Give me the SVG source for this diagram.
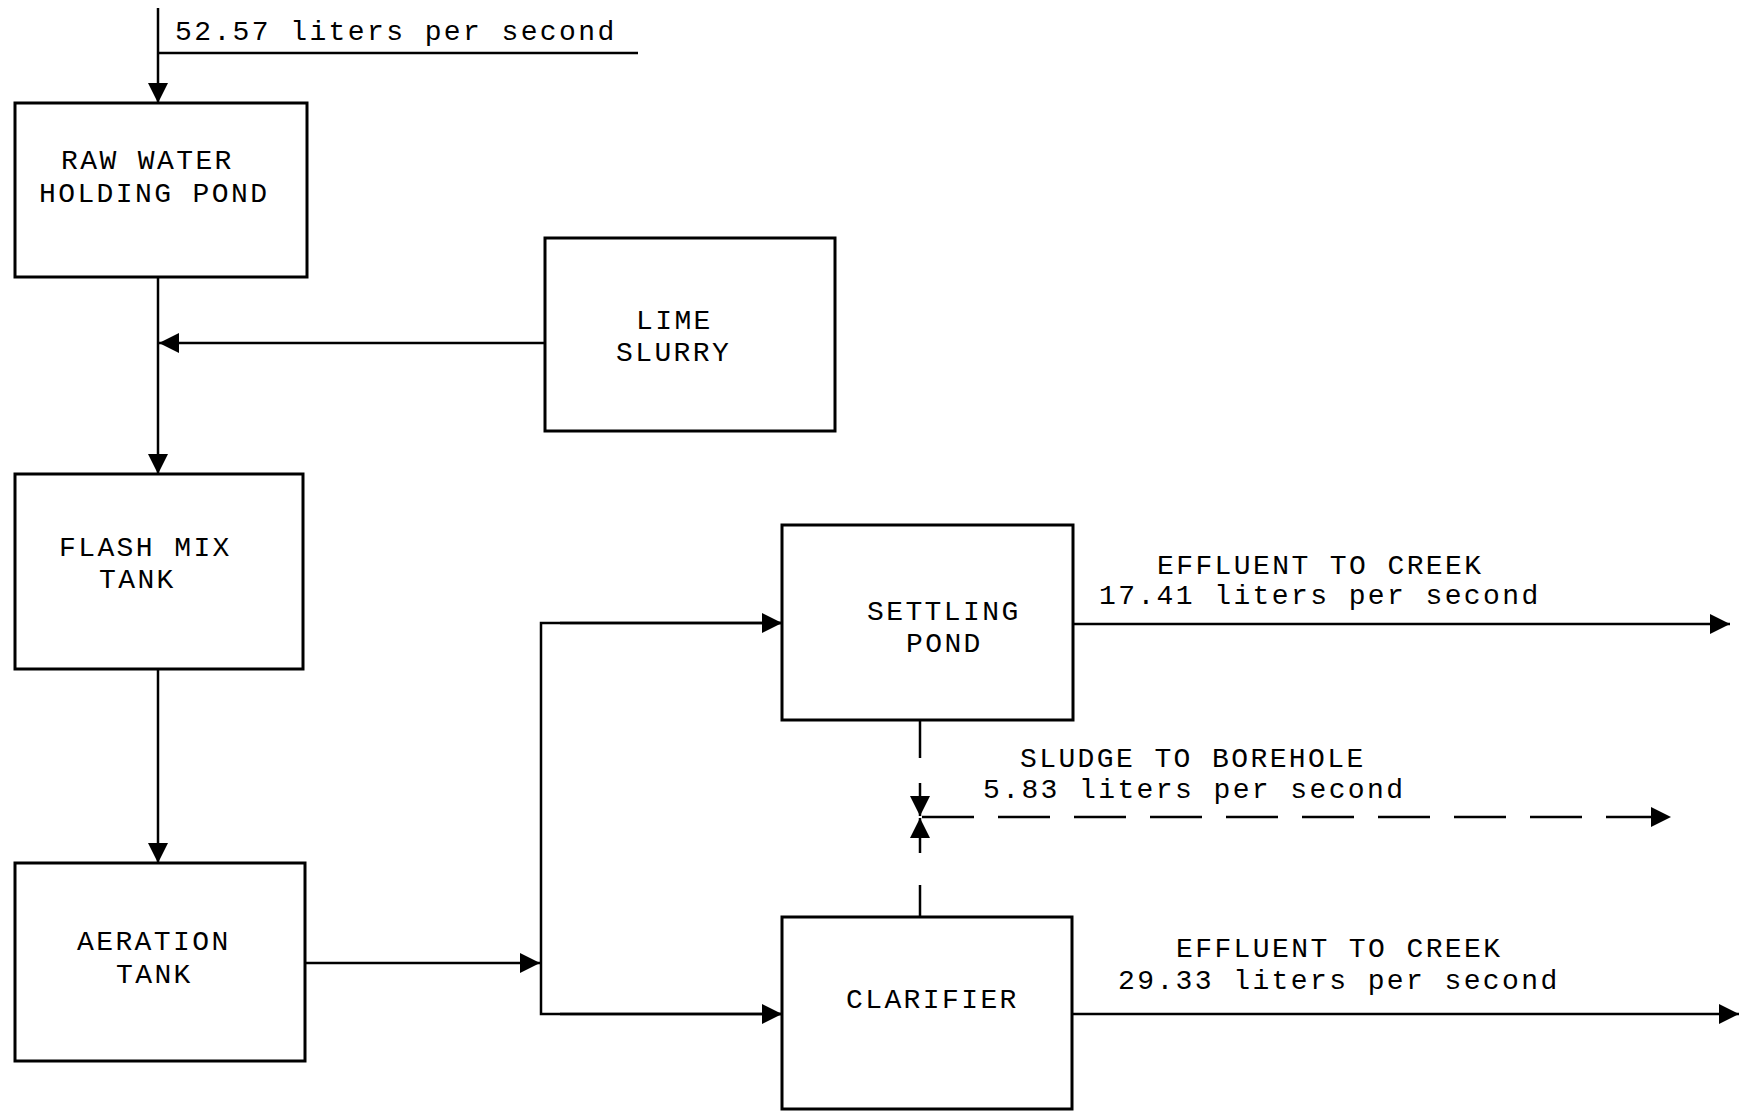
<svg xmlns="http://www.w3.org/2000/svg" width="1744" height="1111" viewBox="0 0 1744 1111">
<style>
.box{fill:#fff;stroke:#000;stroke-width:3}
.ln{fill:none;stroke:#000;stroke-width:2.5}
.dash{stroke-dasharray:52 24}
text{font-family:"Liberation Mono","Courier New",monospace;font-size:28px;letter-spacing:2.4px;fill:#000}
</style>
<defs>
<marker id="arr" viewBox="0 0 20 20" markerUnits="userSpaceOnUse" markerWidth="20" markerHeight="20" refX="20" refY="10" orient="auto">
<path d="M0,0 L20,10 L0,20 z" fill="#000"/>
</marker>
</defs>
<rect width="1744" height="1111" fill="#fff"/>
<g id="connectors">
<line class="ln" x1="158" y1="8" x2="158" y2="103" marker-end="url(#arr)"/>
<line class="ln" x1="158" y1="53" x2="638" y2="53"/>
<line class="ln" x1="158" y1="277" x2="158" y2="474" marker-end="url(#arr)"/>
<line class="ln" x1="545" y1="343" x2="159" y2="343" marker-end="url(#arr)"/>
<line class="ln" x1="158" y1="669" x2="158" y2="863" marker-end="url(#arr)"/>
<line class="ln" x1="305" y1="963" x2="540" y2="963" marker-end="url(#arr)"/>
<polyline class="ln" points="782,623 541,623 541,1014 782,1014"/>
<line class="ln" x1="560" y1="623" x2="782" y2="623" marker-end="url(#arr)"/>
<line class="ln" x1="560" y1="1014" x2="782" y2="1014" marker-end="url(#arr)"/>
<line class="ln" x1="1073" y1="624" x2="1730" y2="624" marker-end="url(#arr)"/>
<line class="ln" x1="1072" y1="1014" x2="1739" y2="1014" marker-end="url(#arr)"/>
<line class="ln" x1="920" y1="720" x2="920" y2="758"/>
<line class="ln" x1="920" y1="783" x2="920" y2="816" marker-end="url(#arr)"/>
<line class="ln" x1="920" y1="853" x2="920" y2="818" marker-end="url(#arr)"/>
<line class="ln" x1="920" y1="885" x2="920" y2="917"/>
<line class="ln dash" x1="922" y1="817" x2="1671" y2="817" marker-end="url(#arr)"/>
</g>
<g id="raw-water-holding-pond">
<rect class="box" x="15" y="103" width="292" height="174"/>
<text x="61" y="169">RAW WATER</text>
<text x="39" y="202">HOLDING POND</text>
</g>
<g id="lime-slurry">
<rect class="box" x="545" y="238" width="290" height="193"/>
<text x="636" y="329">LIME</text>
<text x="616" y="361">SLURRY</text>
</g>
<g id="flash-mix-tank">
<rect class="box" x="15" y="474" width="288" height="195"/>
<text x="59" y="556">FLASH MIX</text>
<text x="99" y="588">TANK</text>
</g>
<g id="aeration-tank">
<rect class="box" x="15" y="863" width="290" height="198"/>
<text x="77" y="950">AERATION</text>
<text x="116" y="983">TANK</text>
</g>
<g id="settling-pond">
<rect class="box" x="782" y="525" width="291" height="195"/>
<text x="867" y="620">SETTLING</text>
<text x="906" y="652">POND</text>
</g>
<g id="clarifier">
<rect class="box" x="782" y="917" width="290" height="192"/>
<text x="846" y="1008">CLARIFIER</text>
</g>
<g id="labels">
<text x="175" y="40">52.57 liters per second</text>
<text x="1157" y="574">EFFLUENT TO CREEK</text>
<text x="1099" y="604">17.41 liters per second</text>
<text x="1020" y="767">SLUDGE TO BOREHOLE</text>
<text x="983" y="798">5.83 liters per second</text>
<text x="1176" y="957">EFFLUENT TO CREEK</text>
<text x="1118" y="989">29.33 liters per second</text>
</g>
</svg>
